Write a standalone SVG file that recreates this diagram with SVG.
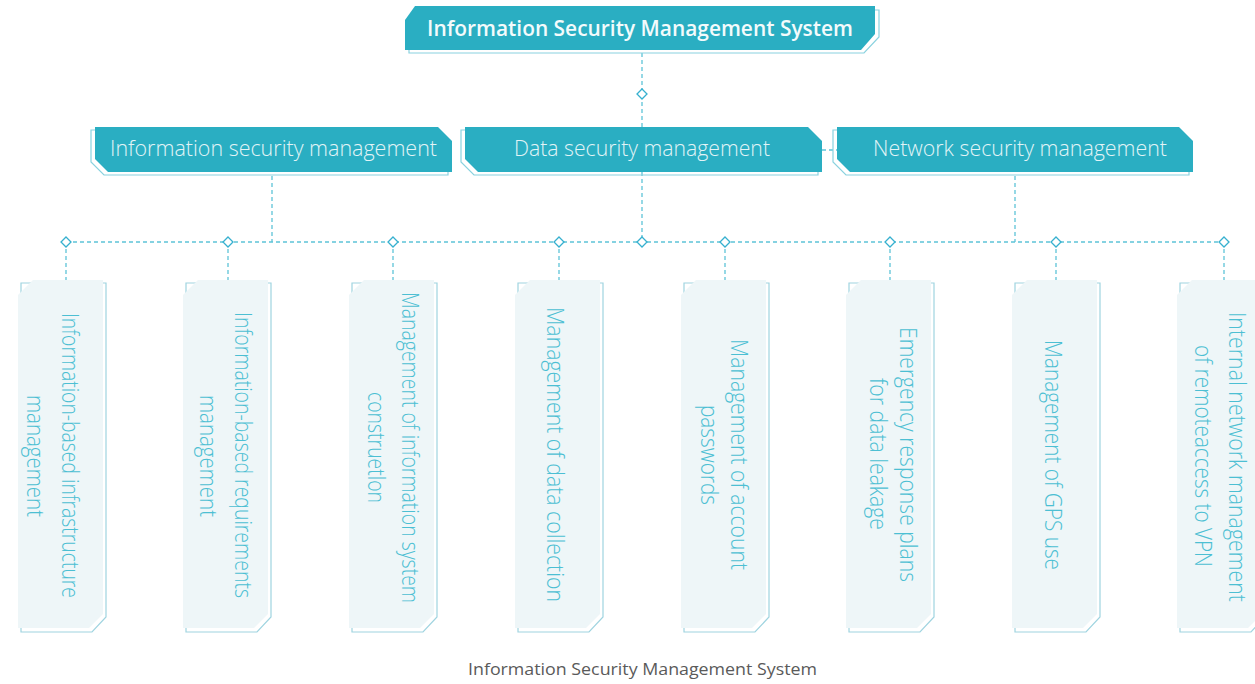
<svg xmlns="http://www.w3.org/2000/svg" width="1255" height="684" viewBox="0 0 1255 684">
<style>
.bg{fill:#ffffff}
.main{fill:#2aaec2}
.hout{fill:none;stroke:#8ad2df;stroke-width:1.2}
.leaf{fill:#eef6f8}
.lout{fill:none;stroke:#9fd4e0;stroke-width:1.2}
.dash{fill:none;stroke:#5ec4d7;stroke-width:1.3;stroke-dasharray:4 3}
.dia{fill:#ffffff;stroke:#36b0cf;stroke-width:1.3}
.title{font-family:"Open Sans","Noto Sans","Liberation Sans",sans-serif;font-size:21.5px;font-weight:600;fill:#f3fbfc}
.l2{font-family:"Open Sans","Noto Sans","Liberation Sans",sans-serif;font-size:22px;font-weight:300;fill:#e2f4f7}
.lt{font-family:"Open Sans","Noto Sans","Liberation Sans",sans-serif;font-size:24px;font-weight:300;fill:#4cbfd3}
.cap{font-family:"Open Sans","Noto Sans","Liberation Sans",sans-serif;font-size:16.5px;fill:#5a5a5a}
</style>
<rect class="bg" x="0" y="0" width="1255" height="684"/>

<g id="connectors">
  <line class="dash" x1="642" y1="53" x2="642" y2="127"/>
  <line class="dash" x1="642" y1="172" x2="642" y2="242"/>
  <line class="dash" x1="272" y1="176" x2="272" y2="242"/>
  <line class="dash" x1="1015" y1="176" x2="1015" y2="242"/>
  <line class="dash" x1="822" y1="150" x2="837" y2="150"/>
  <line class="dash" x1="66" y1="242" x2="1224" y2="242"/>
  <line class="dash" x1="66" y1="242" x2="66" y2="281"/>
  <line class="dash" x1="228" y1="242" x2="228" y2="281"/>
  <line class="dash" x1="393" y1="242" x2="393" y2="281"/>
  <line class="dash" x1="559" y1="242" x2="559" y2="281"/>
  <line class="dash" x1="725" y1="242" x2="725" y2="281"/>
  <line class="dash" x1="890" y1="242" x2="890" y2="281"/>
  <line class="dash" x1="1056" y1="242" x2="1056" y2="281"/>
  <line class="dash" x1="1224" y1="242" x2="1224" y2="281"/>
  <path class="dia" d="M642,89 L647,94 L642,99 L637,94 Z"/>
  <path class="dia" d="M66,237 L71,242 L66,247 L61,242 Z"/>
  <path class="dia" d="M228,237 L233,242 L228,247 L223,242 Z"/>
  <path class="dia" d="M393,237 L398,242 L393,247 L388,242 Z"/>
  <path class="dia" d="M559,237 L564,242 L559,247 L554,242 Z"/>
  <path class="dia" d="M642,237 L647,242 L642,247 L637,242 Z"/>
  <path class="dia" d="M725,237 L730,242 L725,247 L720,242 Z"/>
  <path class="dia" d="M890,237 L895,242 L890,247 L885,242 Z"/>
  <path class="dia" d="M1056,237 L1061,242 L1056,247 L1051,242 Z"/>
  <path class="dia" d="M1224,237 L1229,242 L1224,247 L1219,242 Z"/>
</g>

<g id="root">
  <polygon class="hout" points="419,10 879,10 879,37 864,53 409,53 409,24"/>
  <polygon class="main" points="415,6 875,6 875,34 861,50 405,50 405,20"/>
  <text class="title" x="640" y="36" text-anchor="middle" textLength="426" lengthAdjust="spacingAndGlyphs">Information Security Management System</text>
</g>

<g id="info-security">
  <polygon class="hout" points="91,130 434,130 448,144 448,175 104,175 91,162"/>
  <polygon class="main" points="95,127 438,127 452,141 452,172 108,172 95,159"/>
  <text class="l2" x="273.5" y="156" text-anchor="middle" textLength="327" lengthAdjust="spacingAndGlyphs">Information security management</text>
</g>

<g id="data-security">
  <polygon class="hout" points="461,130 804,130 818,144 818,175 474,175 461,162"/>
  <polygon class="main" points="465,127 808,127 822,141 822,172 478,172 465,159"/>
  <text class="l2" x="642" y="156" text-anchor="middle" textLength="256" lengthAdjust="spacingAndGlyphs">Data security management</text>
</g>

<g id="network-security">
  <polygon class="hout" points="833,130 1175,130 1189,144 1189,175 846,175 833,162"/>
  <polygon class="main" points="837,127 1179,127 1193,141 1193,172 850,172 837,159"/>
  <text class="l2" x="1020" y="156" text-anchor="middle" textLength="294" lengthAdjust="spacingAndGlyphs">Network security management</text>
</g>

<g id="leaf1">
  <polygon class="lout" points="21,283 106,283 106,617 92,632 21,632"/>
  <polygon class="leaf" points="33,280 103,280 103,614 89,628 18,628 18,295"/>
  <text class="lt" transform="translate(62,455.5) rotate(90)" text-anchor="middle" textLength="285" lengthAdjust="spacingAndGlyphs">Information-based infrastructure</text>
  <text class="lt" transform="translate(27,456) rotate(90)" text-anchor="middle" textLength="122" lengthAdjust="spacingAndGlyphs">management</text>
</g>

<g id="leaf2">
  <polygon class="lout" points="186,283 271,283 271,617 257,632 186,632"/>
  <polygon class="leaf" points="198,280 268,280 268,614 254,628 183,628 183,295"/>
  <text class="lt" transform="translate(235,455) rotate(90)" text-anchor="middle" textLength="286" lengthAdjust="spacingAndGlyphs">Information-based requirements</text>
  <text class="lt" transform="translate(200,456) rotate(90)" text-anchor="middle" textLength="122" lengthAdjust="spacingAndGlyphs">management</text>
</g>

<g id="leaf3">
  <polygon class="lout" points="352,283 437,283 437,617 423,632 352,632"/>
  <polygon class="leaf" points="364,280 434,280 434,614 420,628 349,628 349,295"/>
  <text class="lt" transform="translate(402,447.5) rotate(90)" text-anchor="middle" textLength="311" lengthAdjust="spacingAndGlyphs">Management of information system</text>
  <text class="lt" transform="translate(368,447.5) rotate(90)" text-anchor="middle" textLength="111" lengthAdjust="spacingAndGlyphs">construetlon</text>
</g>

<g id="leaf4">
  <polygon class="lout" points="518,283 603,283 603,617 589,632 518,632"/>
  <polygon class="leaf" points="530,280 600,280 600,614 586,628 515,628 515,295"/>
  <text class="lt" transform="translate(547,454.5) rotate(90)" text-anchor="middle" textLength="295" lengthAdjust="spacingAndGlyphs">Management of data collection</text>
</g>

<g id="leaf5">
  <polygon class="lout" points="684,283 769,283 769,617 755,632 684,632"/>
  <polygon class="leaf" points="696,280 766,280 766,614 752,628 681,628 681,295"/>
  <text class="lt" transform="translate(731,454.5) rotate(90)" text-anchor="middle" textLength="231" lengthAdjust="spacingAndGlyphs">Management of account</text>
  <text class="lt" transform="translate(701,455) rotate(90)" text-anchor="middle" textLength="100" lengthAdjust="spacingAndGlyphs">passwords</text>
</g>

<g id="leaf6">
  <polygon class="lout" points="849,283 934,283 934,617 920,632 849,632"/>
  <polygon class="leaf" points="861,280 931,280 931,614 917,628 846,628 846,295"/>
  <text class="lt" transform="translate(900,454.5) rotate(90)" text-anchor="middle" textLength="255" lengthAdjust="spacingAndGlyphs">Emergency response plans</text>
  <text class="lt" transform="translate(870,454) rotate(90)" text-anchor="middle" textLength="152" lengthAdjust="spacingAndGlyphs">for data leakage</text>
</g>

<g id="leaf7">
  <polygon class="lout" points="1015,283 1100,283 1100,617 1086,632 1015,632"/>
  <polygon class="leaf" points="1027,280 1097,280 1097,614 1083,628 1012,628 1012,295"/>
  <text class="lt" transform="translate(1045,455) rotate(90)" text-anchor="middle" textLength="230" lengthAdjust="spacingAndGlyphs">Management of GPS use</text>
</g>

<g id="leaf8">
  <polygon class="lout" points="1180,283 1265,283 1265,617 1251,632 1180,632"/>
  <polygon class="leaf" points="1192,280 1262,280 1262,614 1248,628 1177,628 1177,295"/>
  <text class="lt" transform="translate(1229,457) rotate(90)" text-anchor="middle" textLength="290" lengthAdjust="spacingAndGlyphs">Internal network management</text>
  <text class="lt" transform="translate(1195,456) rotate(90)" text-anchor="middle" textLength="222" lengthAdjust="spacingAndGlyphs">of remoteaccess to VPN</text>
</g>

<text class="cap" x="642.5" y="675" text-anchor="middle" textLength="349" lengthAdjust="spacingAndGlyphs">Information Security Management System</text>
</svg>
